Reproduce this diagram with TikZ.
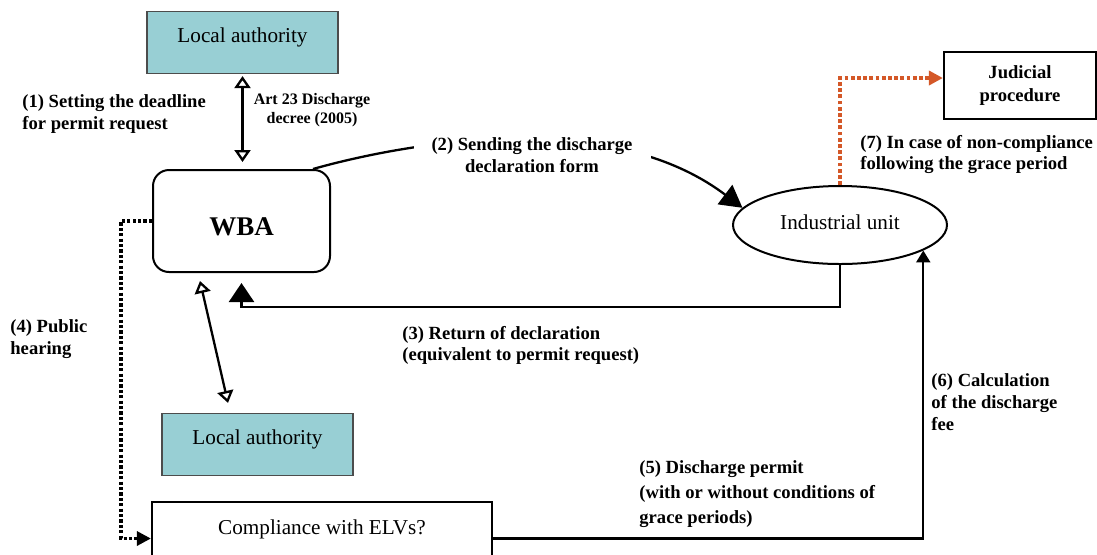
\documentclass[tikz,border=0pt]{standalone}
\usepackage{fontspec}
\setmainfont{Liberation Serif}
\usetikzlibrary{arrows.meta,shapes.geometric,calc}
\definecolor{lacol}{RGB}{152,207,212}
\definecolor{orng}{RGB}{212,88,40}
\begin{document}
\begin{tikzpicture}[x=0.5pt,y=-0.5pt,
  normfont/.style={font=\fontsize{10.6}{12}\selectfont},
  labox/.style={draw=black!70, line width=0.6pt, fill=lacol, minimum width=95.5pt,
    minimum height=31pt, inner sep=0pt, normfont, text height=7.3pt, text depth=7.8pt},
  lbl/.style={font=\fontsize{9.3}{10.8}\selectfont\bfseries, align=left, inner sep=0pt, anchor=north west},
  conn/.style={line width=1.15pt},
  dbl/.style={conn, {Triangle[open,length=6pt,width=8pt]}-{Triangle[open,length=6pt,width=8pt]}},
  dotline/.style={line width=1.6pt, dash pattern=on 1.6pt off 1.1pt},
  orngline/.style={draw=orng, line width=1.9pt, dash pattern=on 1.9pt off 1.2pt},
]
\useasboundingbox (0,0) rectangle (1097,554);

% nodes
\node[labox] (la1) at (242.5,42.5) {Local authority};
\node[labox] (la2) at (257.5,444.5) {Local authority};
\node[draw, rounded corners=8pt, line width=1pt, minimum width=88.5pt, minimum height=51pt,
  font=\fontsize{13.5}{16}\selectfont\bfseries, text height=14pt, text depth=0pt] (wba) at (241.5,221) {WBA};
\node[ellipse, draw, line width=1pt, minimum width=107pt, minimum height=39pt, inner sep=0pt,
  normfont, text height=7.2pt, text depth=2.5pt] (ind) at (840,225) {Industrial unit};
\node[draw, line width=1.1pt, minimum width=76pt, minimum height=33.5pt, align=center,
  font=\fontsize{9.3}{11.5}\selectfont\bfseries] (jud) at (1020,85.5) {Judicial\\procedure};
\node[draw, line width=1.1pt, minimum width=170pt, minimum height=36.5pt, inner sep=0pt,
  normfont, text height=7.2pt, text depth=11.7pt] (cmp) at (322,538.5) {Compliance with ELVs?};

% connectors
\draw[dbl, shorten <=1pt, shorten >=3.5pt] (la1.south) -- (la1.south |- wba.north);
\draw[dbl] ([xshift=-20.75pt,yshift=-4pt]wba.south) -- ([xshift=-14.75pt,yshift=5pt]la2.north);
\draw[conn, -{Triangle[length=11pt,width=12pt]}] ([xshift=-9pt]wba.north east)
  .. controls (380,150) and (600,100) .. (ind.170);
\draw[conn, -{Triangle[length=9.5pt,width=12.5pt]}] (ind.south) -- ++(0,42) -| ([yshift=-5pt]wba.south);
\draw[dotline, -{Triangle[length=7pt,width=7pt]}] (wba.west) -- ++(-31,0) |- (cmp.west);
\draw[conn, -{Triangle[length=6pt,width=7pt]}] (cmp.east) -| (ind.-17);
\draw[orngline, -{Triangle[length=7pt,width=7pt,fill=orng]}] (ind.north) |- ([yshift=3.75pt]jud.west);

% labels
\node[lbl] (l1) at (22,94.5) {(1) Setting the deadline\\for permit request};
\node[font=\fontsize{8}{9.5}\selectfont\bfseries, align=center, inner sep=0pt, anchor=north] (lart) at (312,92.5) {Art 23 Discharge\\decree (2005)};
\node[font=\fontsize{9.3}{10.8}\selectfont\bfseries, align=center, fill=white, inner xsep=9pt, inner ysep=2pt, anchor=north] (l2) at (532,133.5) {(2) Sending the discharge\\declaration form};
\node[lbl] (l3) at (402,325.5) {(3) Return of declaration\\(equivalent to permit request)};
\node[lbl] (l4) at (10,319.5) {(4) Public\\hearing};
\node[lbl, font=\fontsize{9.3}{12.5}\selectfont\bfseries] (l5) at (639,460.5) {(5) Discharge permit\\(with or without conditions of\\grace periods)};
\node[lbl] (l6) at (931,373.5) {(6) Calculation\\of the discharge\\fee};
\node[lbl] (l7) at (860,134.5) {(7) In case of non-compliance\\following the grace period};
\end{tikzpicture}
\end{document}
